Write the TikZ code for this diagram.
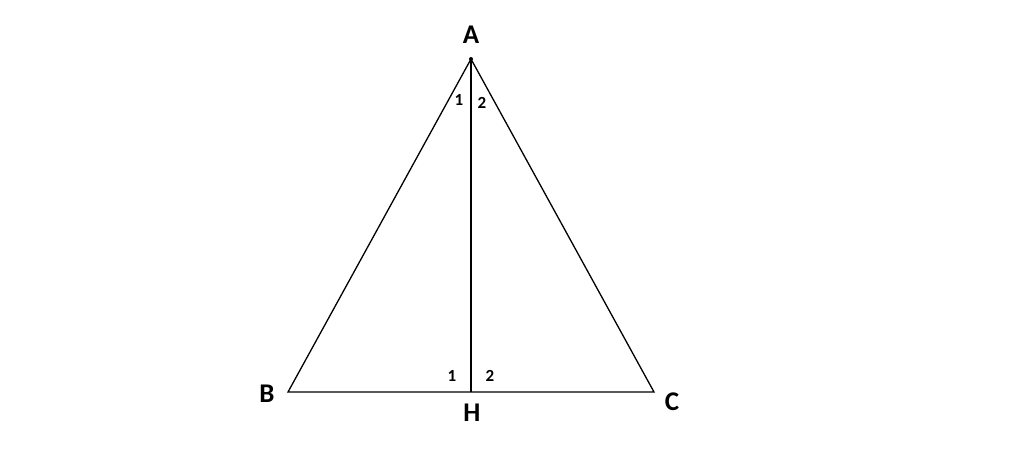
\documentclass[tikz,border=0pt]{standalone}
\usepackage{fontspec}
\setmainfont{Carlito}
\begin{document}
\begin{tikzpicture}[x=1pt,y=-1pt,
  edge/.style={line width=1.3pt,black},
  vlabel/.style={font=\fontsize{27}{27}\selectfont\bfseries,inner sep=0pt},
  anglabel/.style={font=\fontsize{17}{17}\selectfont\bfseries,inner sep=0pt}]
\useasboundingbox (0,0) rectangle (1024,469);
\coordinate (A) at (471,59);
\coordinate (B) at (288,392);
\coordinate (C) at (654,392);
\coordinate (H) at (471,392);
\draw[edge,line join=miter] (A) -- (B) -- (C) -- cycle;
\draw[edge] (A) -- (H);
\fill (A) circle (2pt);
\node[vlabel] (lA) at (471,35) {A};
\node[vlabel] (lB) at (267,394) {B};
\node[vlabel] (lC) at (672,402) {C};
\node[vlabel] (lH) at (472,413) {H};
\node[anglabel] (a1) at (459,100) {1};
\node[anglabel] (a2) at (482,103) {2};
\node[anglabel] (h1) at (452,376) {1};
\node[anglabel] (h2) at (490,376) {2};
\end{tikzpicture}
\end{document}
